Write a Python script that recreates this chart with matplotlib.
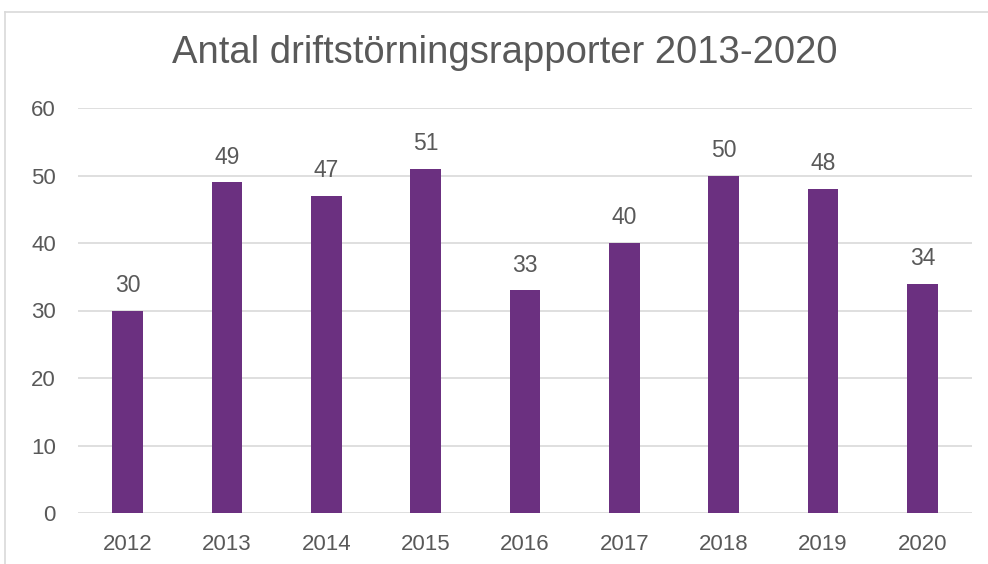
import matplotlib
matplotlib.use("Agg")
import matplotlib.pyplot as plt
from matplotlib.lines import Line2D

years = ["2012", "2013", "2014", "2015", "2016", "2017", "2018", "2019", "2020"]
counts = [30, 49, 47, 51, 33, 40, 50, 48, 34]
title = "Antal driftstörningsrapporter 2013-2020"

plt.rcParams['font.family'] = ['Liberation Sans', 'DejaVu Sans']
grey = "#595959"

fig = plt.figure(figsize=(9.88, 5.64), dpi=100)
ax = fig.add_axes([78/988, 1-513/564, (972-78)/988, (513-108)/564])

x = range(len(years))
bars = ax.bar(x, counts, width=0.31, color="#6b3080", zorder=3)
for b, v in zip(bars, counts):
    ax.text(b.get_x() + b.get_width()/2, v + 2.0, str(v), ha="center", va="bottom",
            fontsize=16.5, color=grey)

ax.set_xlim(-0.5, len(years) - 0.5)
ax.set_ylim(0, 60)
ax.set_yticks(range(0, 61, 10))
ax.set_xticks(list(x))
ax.set_xticklabels(years)
ax.grid(axis="y", color="#d9d9d9", linewidth=1.2, zorder=0)
for s in ax.spines.values():
    s.set_visible(False)
ax.tick_params(length=0, labelsize=16, labelcolor=grey)
ax.tick_params(axis="y", pad=16)
ax.tick_params(axis="x", pad=15)

fig.text(505/988, 1-53/564, title, ha="center", va="center", fontsize=27.5, color=grey)

# chart frame
fig.add_artist(Line2D([5/988, 5/988], [0, 1-12/564], color="#d9d9d9", lw=1.2, transform=fig.transFigure))
fig.add_artist(Line2D([5/988, 1], [1-12/564, 1-12/564], color="#d9d9d9", lw=1.2, transform=fig.transFigure))

fig.savefig("out.png", dpi=100)
